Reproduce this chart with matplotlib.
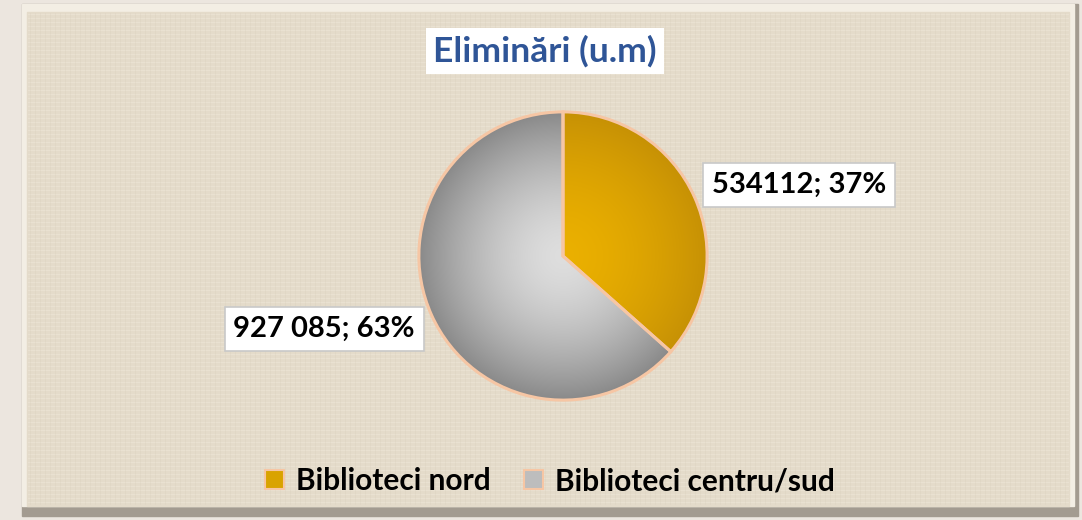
import numpy as np
import matplotlib
matplotlib.use("Agg")
import matplotlib.pyplot as plt
from matplotlib.patches import Rectangle, Patch

plt.rcParams["font.family"] = ["Lato", "DejaVu Sans"]

# ── data ────────────────────────────────────────────────────────────────────
categories = ["Biblioteci nord", "Biblioteci centru/sud"]
values     = [534112, 927085]
labels     = ["534112; 37%", "927 085; 63%"]
title      = "Eliminări (u.m)"

W, H = 1082, 520
fig = plt.figure(figsize=(W / 100, H / 100), dpi=100)
fig.patch.set_facecolor("#ece6df")

# ── background panel with bevel ─────────────────────────────────────────────
bg = fig.add_axes([0, 0, 1, 1])
bg.set_xlim(0, W)
bg.set_ylim(H, 0)
bg.axis("off")
bg.add_patch(Rectangle((22, 4), W - 26, H - 8, color="#a39b90", zorder=0))
bg.add_patch(Rectangle((22, 4), W - 30, H - 18, color="#f3eee4", zorder=1))
bg.add_patch(Rectangle((27, 12), W - 40, H - 26, color="#e4dbca", zorder=2))
# faint linen texture
for y in range(14, H - 16, 4):
    bg.plot([28, W - 14], [y, y], color="#f1eadd", lw=0.6, alpha=0.5, zorder=3)
for x in range(30, W - 14, 5):
    bg.plot([x, x], [13, H - 16], color="#d6ccb9", lw=0.5, alpha=0.35, zorder=3)

# ── pie ─────────────────────────────────────────────────────────────────────
cx, cy, r = 563, 256, 147
ax = fig.add_axes([(cx - r) / W, (H - cy - r) / H, 2 * r / W, 2 * r / H])
wedges, _ = ax.pie(values, startangle=90, counterclock=False,
                   colors=["#dca600", "#b4b4b4"],
                   wedgeprops=dict(edgecolor="#f6c6a4", linewidth=2.2))
ax.set_xlim(-1.02, 1.02)
ax.set_ylim(-1.02, 1.02)

# radial gradients clipped to each wedge
gx, gy = np.meshgrid(np.linspace(-1.05, 1.05, 300), np.linspace(-1.05, 1.05, 300))
dist = np.clip(np.hypot(gx, gy), 0, 1) ** 1.6
grads = [
    (np.array([0.92, 0.69, 0.00]), np.array([0.78, 0.57, 0.02])),
    (np.array([0.87, 0.87, 0.87]), np.array([0.54, 0.54, 0.54])),
]
for w, (c0, c1) in zip(wedges, grads):
    img = c0[None, None, :] * (1 - dist[..., None]) + c1[None, None, :] * dist[..., None]
    im = ax.imshow(img, extent=(-1.05, 1.05, -1.05, 1.05), origin="lower",
                   zorder=1, interpolation="bilinear")
    im.set_clip_path(w)
    w.set_facecolor("none")
    w.set_zorder(5)

# ── title ───────────────────────────────────────────────────────────────────
fig.text(545 / W, 1 - 51 / H, title, ha="center", va="center",
         fontsize=25.5, fontweight="bold", color="#2f5597",
         bbox=dict(boxstyle="square,pad=0.2", facecolor="white", edgecolor="none"))

# ── data labels ─────────────────────────────────────────────────────────────
label_pos = [(799, 185), (324, 329)]
for txt, (lx, ly) in zip(labels, label_pos):
    fig.text(lx / W, 1 - ly / H, txt, ha="center", va="center",
             fontsize=21, fontweight="bold", color="black",
             bbox=dict(boxstyle="square,pad=0.3", facecolor="white",
                       edgecolor="#c8c8c8", linewidth=1.2))

# ── legend ──────────────────────────────────────────────────────────────────
handles = [Patch(facecolor="#d9a300", edgecolor="#f6c6a4", linewidth=1.5),
           Patch(facecolor="#bdbdbd", edgecolor="#f6c6a4", linewidth=1.5)]
fig.legend(handles, categories, loc="center", bbox_to_anchor=(550 / W, 1 - 481 / H),
           ncol=2, frameon=False, handlelength=0.65, handleheight=0.65,
           handletextpad=0.4, columnspacing=1.1,
           prop=dict(size=21.5, weight="bold"))

fig.savefig("out.png", dpi=100)
